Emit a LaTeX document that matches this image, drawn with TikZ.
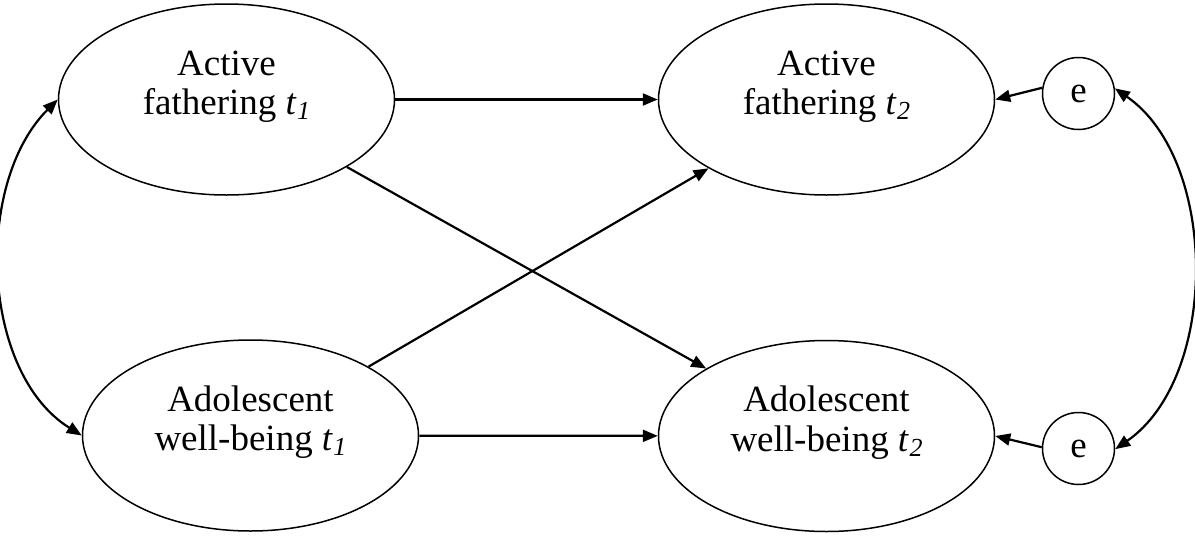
\documentclass[tikz,border=0pt]{standalone}
\usepackage{fontspec}
\setmainfont{Liberation Serif}
\usetikzlibrary{shapes.geometric,arrows.meta}
\newcommand{\tsub}[1]{\textit{t}\kern0.5pt\raisebox{-0.14em}{\fontsize{26}{26}\selectfont\textit{#1}}}
\newcommand{\twolines}[2]{\raisebox{24.5pt}[0pt][0pt]{\begin{tabular}[t]{@{}c@{}}#1\\#2\end{tabular}}}
\begin{document}
\begin{tikzpicture}[x=1pt,y=-1pt,
  latent/.style={draw, ellipse, line width=1.5pt, minimum width=336pt, minimum height=191pt, inner sep=0pt, font=\fontsize{37}{39.5}\selectfont},
  err/.style={draw, circle, line width=1.5pt, minimum size=72pt, inner sep=0pt, font=\fontsize{37}{40}\selectfont},
  regarrow/.style={line width=2.2pt, -{Triangle[length=15pt,width=12pt]}},
  cov/.style={line width=2.2pt, {Triangle[length=15pt,width=12pt]}-{Triangle[length=15pt,width=12pt]}}]
\useasboundingbox (0,0) rectangle (1195,536);
\node[latent] (A) at (226.5,99.5) {\twolines{Active}{fathering \tsub{1}}};
\node[latent] (B) at (826.5,99.5) {\twolines{Active}{fathering \tsub{2}}};
\node[latent] (C) at (250.5,435.5) {\twolines{Adolescent}{well-being \tsub{1}}};
\node[latent] (D) at (826.5,436) {\twolines{Adolescent}{well-being \tsub{2}}};
\node[err] (e1) at (1078.5,93.5) {e};
\node[err] (e2) at (1078.5,448.5) {e};
\draw[regarrow] (A) -- (B);
\draw[regarrow] (C) -- (D);
\draw[regarrow] (A) -- (D);
\draw[regarrow] (C) -- (B);
\draw[regarrow] (e1.171) -- (B.east);
\draw[regarrow] (e2.178) -- (D.east);
\draw[cov] (A.west) .. controls +(-84,84) and +(-101,-63) .. (C.west);
\draw[cov] (e1.8) .. controls +(104,72) and +(104,-72) .. (e2.-1);
\end{tikzpicture}
\end{document}
